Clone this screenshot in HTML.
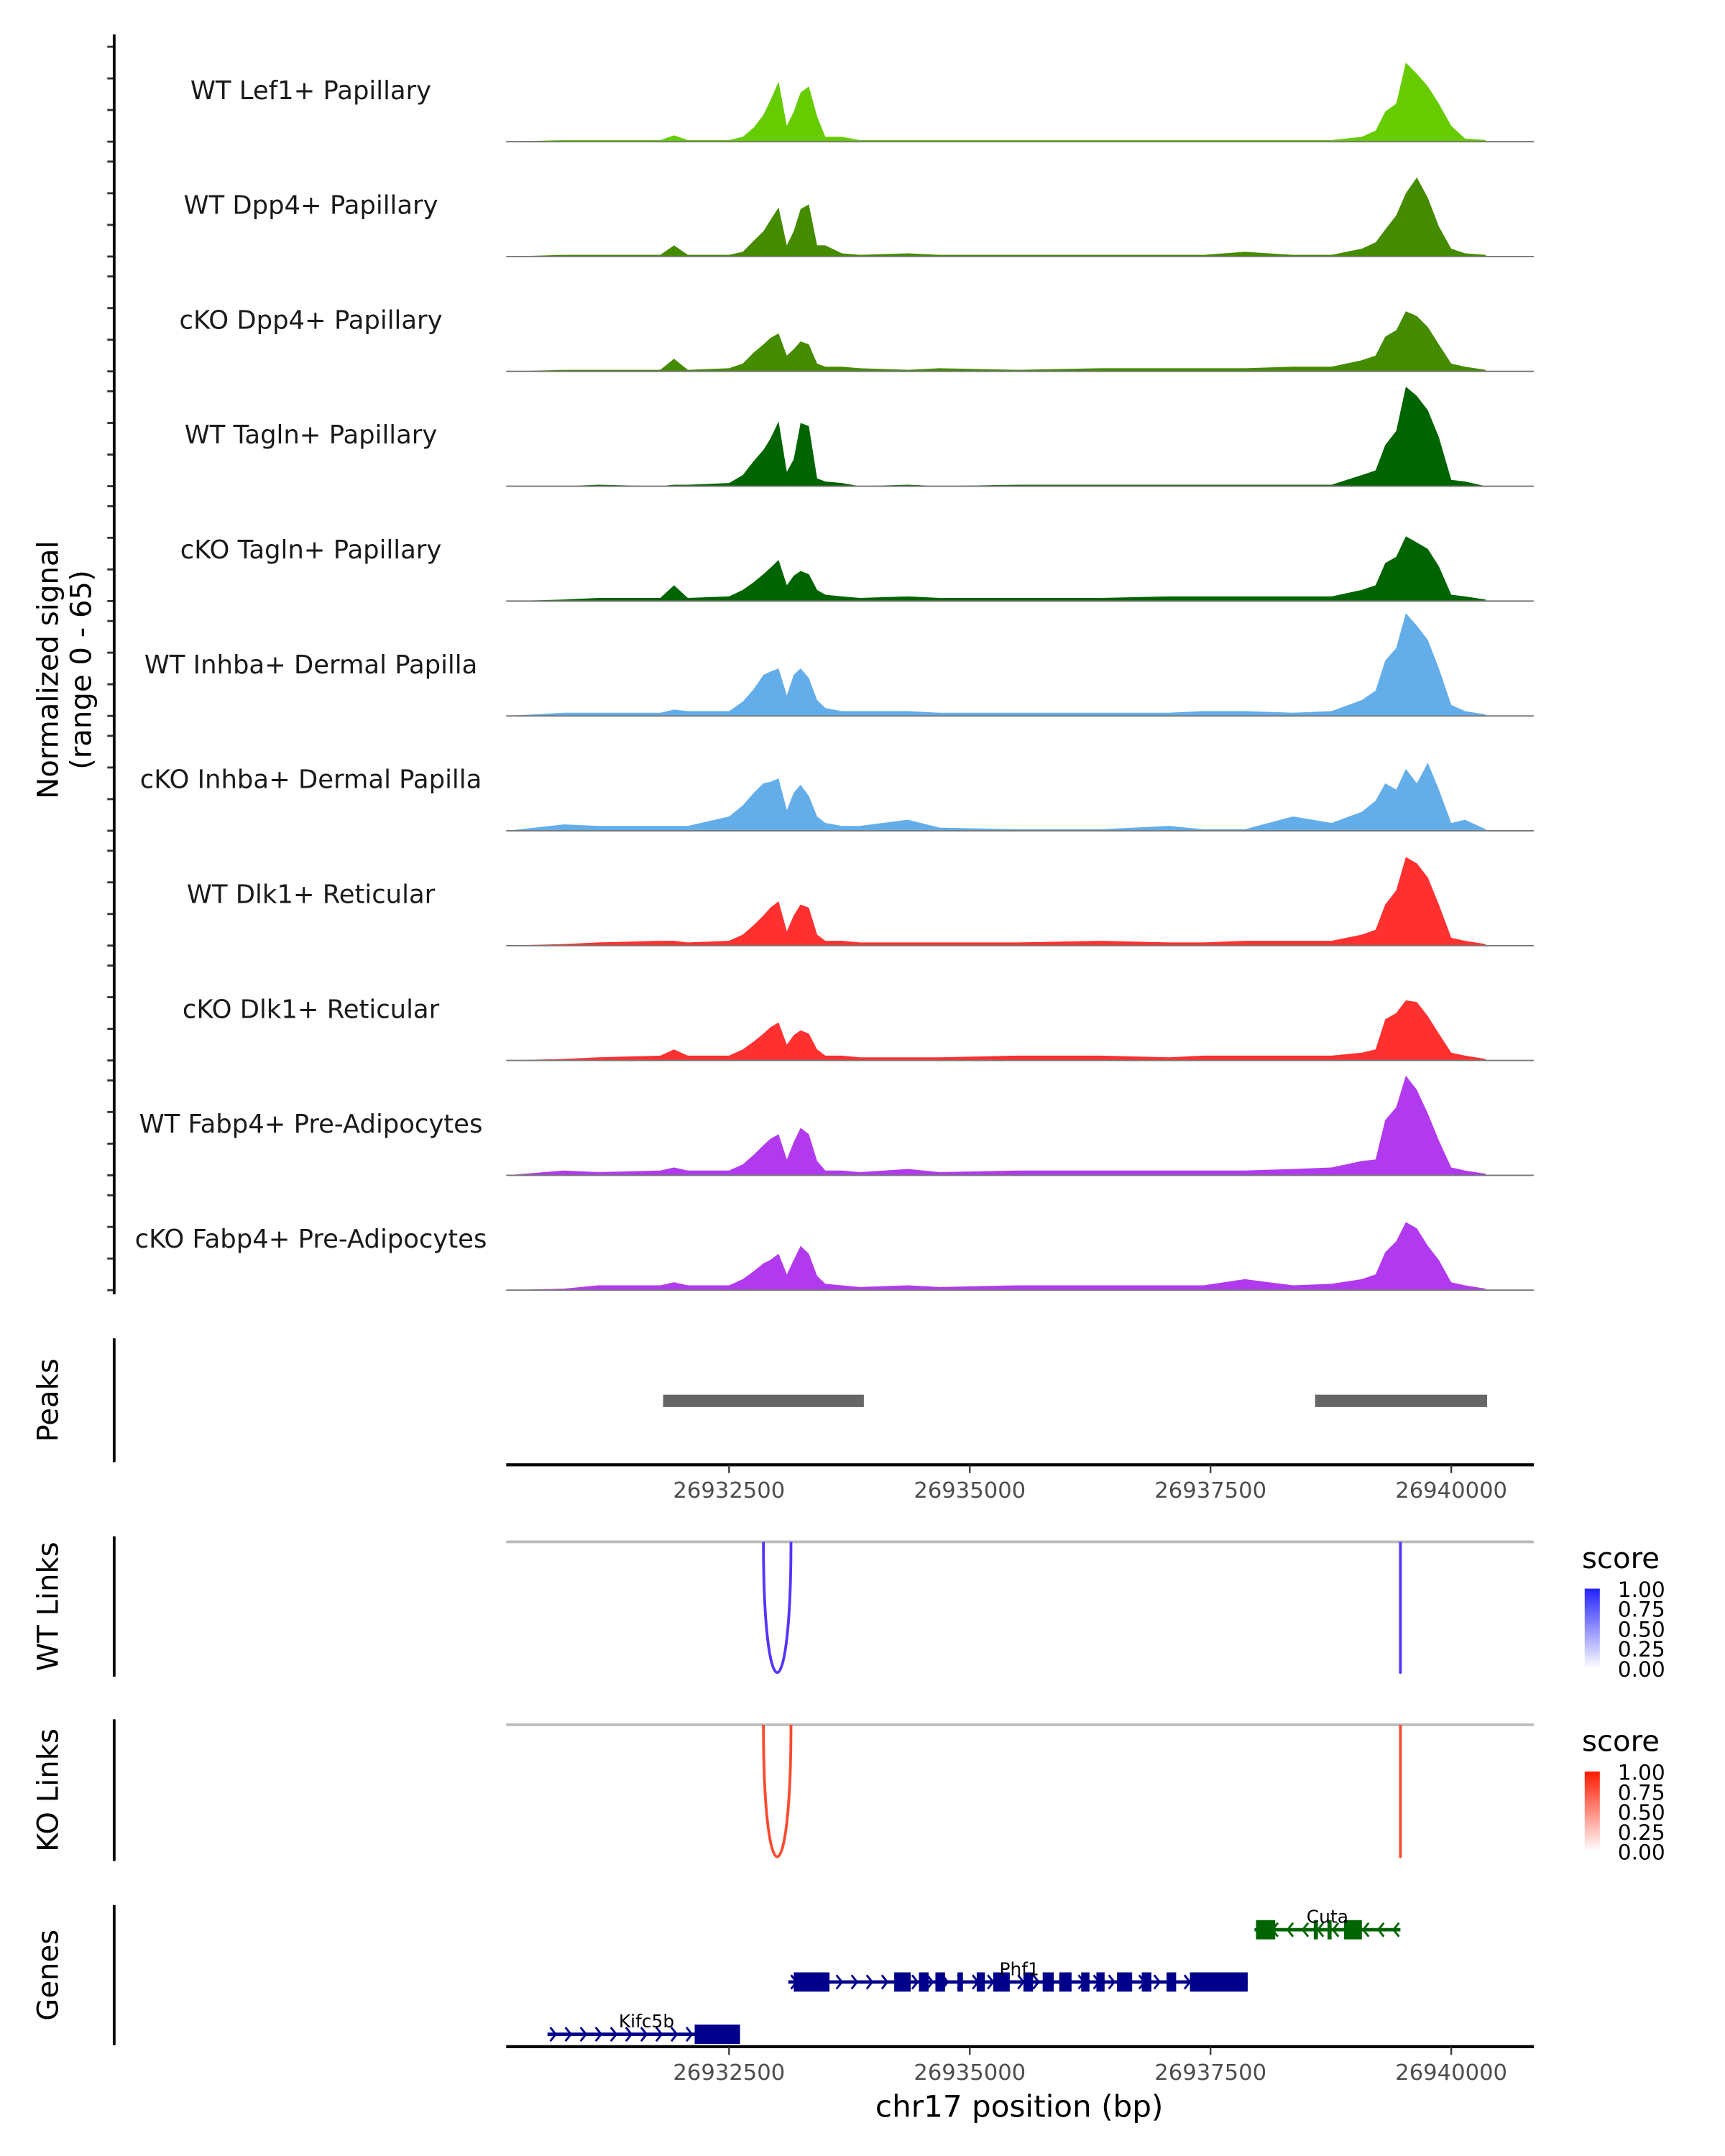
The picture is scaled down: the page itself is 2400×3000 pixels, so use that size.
<!DOCTYPE html>
<html><head><meta charset="utf-8"><style>html,body{margin:0;padding:0;background:#fff}svg{display:block}</style></head>
<body>
<svg id="chart" xmlns="http://www.w3.org/2000/svg" width="2400" height="3000" viewBox="0 0 1254 1567.5" preserveAspectRatio="none" font-family="DejaVu Sans, Liberation Sans, sans-serif">
<rect width="1254" height="1568" fill="#fff"/>
<g id="g"></g>
</svg>
<script>
const regionStart = 26930186, regionEnd = 26940857;
const xTicks = [26932500, 26935000, 26937500, 26940000];
const trackNames = ["WT Lef1+ Papillary","WT Dpp4+ Papillary","cKO Dpp4+ Papillary","WT Tagln+ Papillary","cKO Tagln+ Papillary","WT Inhba+ Dermal Papilla","cKO Inhba+ Dermal Papilla","WT Dlk1+ Reticular","cKO Dlk1+ Reticular","WT Fabp4+ Pre-Adipocytes","cKO Fabp4+ Pre-Adipocytes"];
const trackColors = ["#66cc00","#458b00","#458b00","#006400","#006400","#63ade9","#63ade9","#ff3030","#ff3030","#b23aee","#b23aee"];
const positions = [26930186,26930786,26931143,26931786,26931929,26932072,26932500,26932643,26932757,26932857,26932929,26933014,26933100,26933171,26933243,26933329,26933414,26933500,26933671,26933857,26934357,26934686,26935500,26936357,26937072,26937429,26937857,26938357,26938757,26939072,26939214,26939314,26939429,26939529,26939643,26939757,26939871,26940000,26940143,26940357];
const sig0 = [0,1,1,1,4,1,1,3,9,17,26,38,10,19,31,35,16,3,3,1,1,1,1,1,1,1,1,1,1,3,7,19,24,50,43,35,24,10,2,1];
const sig1 = [0,1,1,1,7,1,1,3,10,16,23,31,7,16,30,33,7,7,2,1,2,1,1,1,1,1,3,1,1,5,9,17,26,40,50,37,19,5,2,1];
const sig2 = [0,1,1,1,8,1,2,5,12,17,21,24,10,14,19,17,5,3,3,2,1,2,1,2,2,2,2,3,3,7,10,22,26,38,35,28,17,5,3,1];
const sig3 = [0,0,1,0,1,1,2,7,16,23,30,41,9,17,40,38,5,3,2,0,1,0,1,1,1,1,1,1,1,7,10,26,35,63,57,48,31,4,3,0];
const sig4 = [0,1,2,2,10,2,3,7,12,17,21,26,10,16,19,17,7,4,3,2,3,2,2,2,3,3,3,3,3,7,10,24,28,41,37,33,22,4,3,1];
const sig5 = [0,2,2,2,4,3,3,9,17,26,28,30,13,26,30,24,10,5,3,3,3,2,2,2,2,3,3,2,3,10,16,35,43,65,57,48,30,7,3,1];
const sig6 = [0,4,3,3,3,3,9,16,24,30,31,33,13,24,29,22,9,5,3,3,7,2,1,1,3,1,1,9,5,12,19,30,26,39,30,43,26,5,7,1];
const sig7 = [0,1,2,3,3,2,3,7,13,19,24,28,9,19,26,24,7,3,3,2,2,2,2,3,2,2,3,3,3,7,10,26,35,56,52,43,26,5,3,1];
const sig8 = [0,1,2,3,7,3,3,7,12,17,21,24,10,16,19,17,7,3,3,2,2,2,3,3,2,3,3,3,3,5,7,26,30,38,37,28,17,5,3,1];
const sig9 = [0,3,2,3,5,3,3,7,13,19,23,26,10,21,30,26,9,3,3,2,4,2,3,3,3,3,3,4,5,9,10,35,43,63,54,39,22,5,3,1];
const sig10 = [0,1,3,3,5,3,3,7,12,17,19,23,10,19,28,23,9,4,3,2,3,2,3,3,3,3,7,3,4,7,10,24,31,43,39,28,19,5,3,1];
const signals = [sig0,sig1,sig2,sig3,sig4,sig5,sig6,sig7,sig8,sig9,sig10];
const peakStarts = [26931815, 26938586];
const peakEnds = [26933900, 26940372];
const linkStarts = [26932857, 26939472];
const linkEnds = [26933143, 26939472];
const linkScores = [1, 1];
const legendTicks = ["1.00","0.75","0.50","0.25","0.00"];
const geneNames = ["Cuta","Phf1","Kifc5b"];
const geneStarts = [26937957, 26933115, 26930615];
const geneEnds = [26939472, 26937886, 26932614];
const geneStrands = [-1, 1, 1];
const cutaExons = [[26937972,26938172],[26938572,26938615],[26938715,26938757],[26938886,26939072]];
const phf1Exons = [[26933172,26933543],[26934215,26934386],[26934472,26934572],[26934643,26934743],[26934872,26934929],[26935072,26935157],[26935243,26935415],[26935557,26935657],[26935757,26935872],[26935929,26936057],[26936157,26936243],[26936315,26936400],[26936529,26936686],[26936786,26936886],[26937043,26937143],[26937286,26937886]];
const kifExons = [[26932143,26932614]];
const geneExons = [cutaExons, phf1Exons, kifExons];

const NS="http://www.w3.org/2000/svg";
const G=document.getElementById('g');
const X0=368,X1=1115;
function xs(bp){return X0+(bp-regionStart)/(regionEnd-regionStart)*(X1-X0);}
const unitPx=1.15;
function mk(tag,attrs,parent){const e=document.createElementNS(NS,tag);for(const k in attrs)e.setAttribute(k,attrs[k]);(parent||G).appendChild(e);return e;}
function txt(s,attrs){const e=mk('text',attrs);e.textContent=s;return e;}

const trackH=83.5, firstBase=103;
for(let t=0;t<signals.length;t++){
  const base=firstBase+t*trackH;
  let d='M'+xs(positions[0])+','+base;
  for(let i=0;i<positions.length;i++){d+=' L'+xs(positions[i]).toFixed(1)+','+(base-signals[t][i]*unitPx).toFixed(1);}
  d+=' L'+xs(positions[positions.length-1]).toFixed(1)+','+base+' Z';
  const a=mk('path',{d:d,fill:trackColors[t]});
  
  
  const bl=mk('line',{x1:X0,x2:X1,y1:base,y2:base,stroke:'#777','stroke-width':1});
  
  
  const lb=txt(trackNames[t],{x:226,y:base-31,'text-anchor':'middle','font-size':18.5,fill:'#1a1a1a'});
  
  
  for(let k=0;k<4;k++){
    const ty=base-k*20*unitPx;
    const tk=mk('line',{x1:78,x2:83,y1:ty,y2:ty,stroke:'#333','stroke-width':1.5});
    
    
  }
}
const ya=mk('line',{x1:83,x2:83,y1:25,y2:941,stroke:'#000','stroke-width':2});


const yt=mk('text',{transform:'translate(42,487) rotate(-90)','text-anchor':'middle','font-size':21,fill:'#000'});


yt.innerHTML='<tspan x="0" dy="0">Normalized signal</tspan><tspan x="0" dy="24">(range 0 - 65)</tspan>';

function sideAxis(y1,y2,title,name){
  const l=mk('line',{x1:83,x2:83,y1:y1,y2:y2,stroke:'#000','stroke-width':2});
  
  
  const t=txt(title,{transform:'translate(42,'+((y1+y2)/2)+') rotate(-90)','text-anchor':'middle','font-size':21,fill:'#000'});
  
  
}
sideAxis(973,1063,'Peaks','peaks');
for(let i=0;i<peakStarts.length;i++){
  const r=mk('rect',{x:xs(peakStarts[i]),y:1014,width:xs(peakEnds[i])-xs(peakStarts[i]),height:9,fill:'#666'});
  
  
}
function xAxis(y,name){
  const l=mk('line',{x1:X0,x2:X1,y1:y,y2:y,stroke:'#000','stroke-width':2.2});
  
  
  for(const v of xTicks){
    const tk=mk('line',{x1:xs(v),x2:xs(v),y1:y,y2:y+6,stroke:'#333','stroke-width':1.2});
    
    
    const tl=txt(String(v),{x:xs(v),y:y+24,'text-anchor':'middle','font-size':16,fill:'#4d4d4d'});
    
    
  }
}
xAxis(1065,'peaks-x-axis');

function linkTrack(top,bottom,color,title,name,gradTop){
  sideAxis(top-4,bottom,title,name);
  const gl=mk('line',{x1:X0,x2:X1,y1:top,y2:top,stroke:'#bbb','stroke-width':2});
  
  
  const depth=bottom-3-top;
  for(let i=0;i<linkStarts.length;i++){
    const a=xs(linkStarts[i]),b=xs(linkEnds[i]);
    const dd=depth*linkScores[i];
    const p=mk('path',{d:'M'+a+','+top+' C'+a+','+(top+dd*1.333)+' '+b+','+(top+dd*1.333)+' '+b+','+top,fill:'none',stroke:color,'stroke-width':2});
    
    
  }
  const lt=txt('score',{x:1150,y:top+19,'font-size':21,fill:'#000'});
  
  
  const gid='grad-'+name;
  const gr=mk('linearGradient',{id:gid,x1:0,y1:1,x2:0,y2:0});
  mk('stop',{offset:0,'stop-color':'#fff'},gr);mk('stop',{offset:1,'stop-color':gradTop},gr);
  const by=top+34, bh=58;
  const bar=mk('rect',{x:1152,y:by,width:11,height:bh,fill:'url(#'+gid+')'});
  
  
  for(let i=0;i<legendTicks.length;i++){
    const yy=by+i*bh/4;
    const tl=txt(legendTicks[i],{x:1176,y:yy+6,'font-size':15.5,fill:'#000'});
    
    
  }
}
linkTrack(1121,1219,'#5533ff','WT Links','wt-links','#2222ff');
linkTrack(1254,1353,'#ff4a30','KO Links','ko-links','#ff1a00');

sideAxis(1385,1487,'Genes','genes');
const geneY=[1403,1441,1479], geneCol=['#006400','#00008b','#00008b'];
for(let g=0;g<geneNames.length;g++){
  const y=geneY[g],c=geneCol[g];
  const s=xs(geneStarts[g]),e=xs(geneEnds[g]);
  const ln=mk('line',{x1:s,x2:e,y1:y,y2:y,stroke:c,'stroke-width':2.5});
  
  
  for(let ax=s+4;ax<e-2;ax+=11){
    const dir=geneStrands[g];
    const ch=mk('path',{d:'M'+(ax-2*dir)+','+(y-5)+' L'+(ax+2*dir)+','+y+' L'+(ax-2*dir)+','+(y+5),fill:'none',stroke:c,'stroke-width':1.5});
    
    
  }
  for(const ex of geneExons[g]){
    const r=mk('rect',{x:xs(ex[0]),y:y-7,width:xs(ex[1])-xs(ex[0]),height:14,fill:c});
    
    
  }
  const lab=txt(geneNames[g],{x:g===2?470:(g===1?741:965),y:y-5,'text-anchor':'middle','font-size':13,fill:'#000'});
  
  
}
xAxis(1488,'genes-x-axis');
const xt=txt('chr17 position (bp)',{x:741,y:1539,'text-anchor':'middle','font-size':22,fill:'#000'});


</script>
</body></html>
